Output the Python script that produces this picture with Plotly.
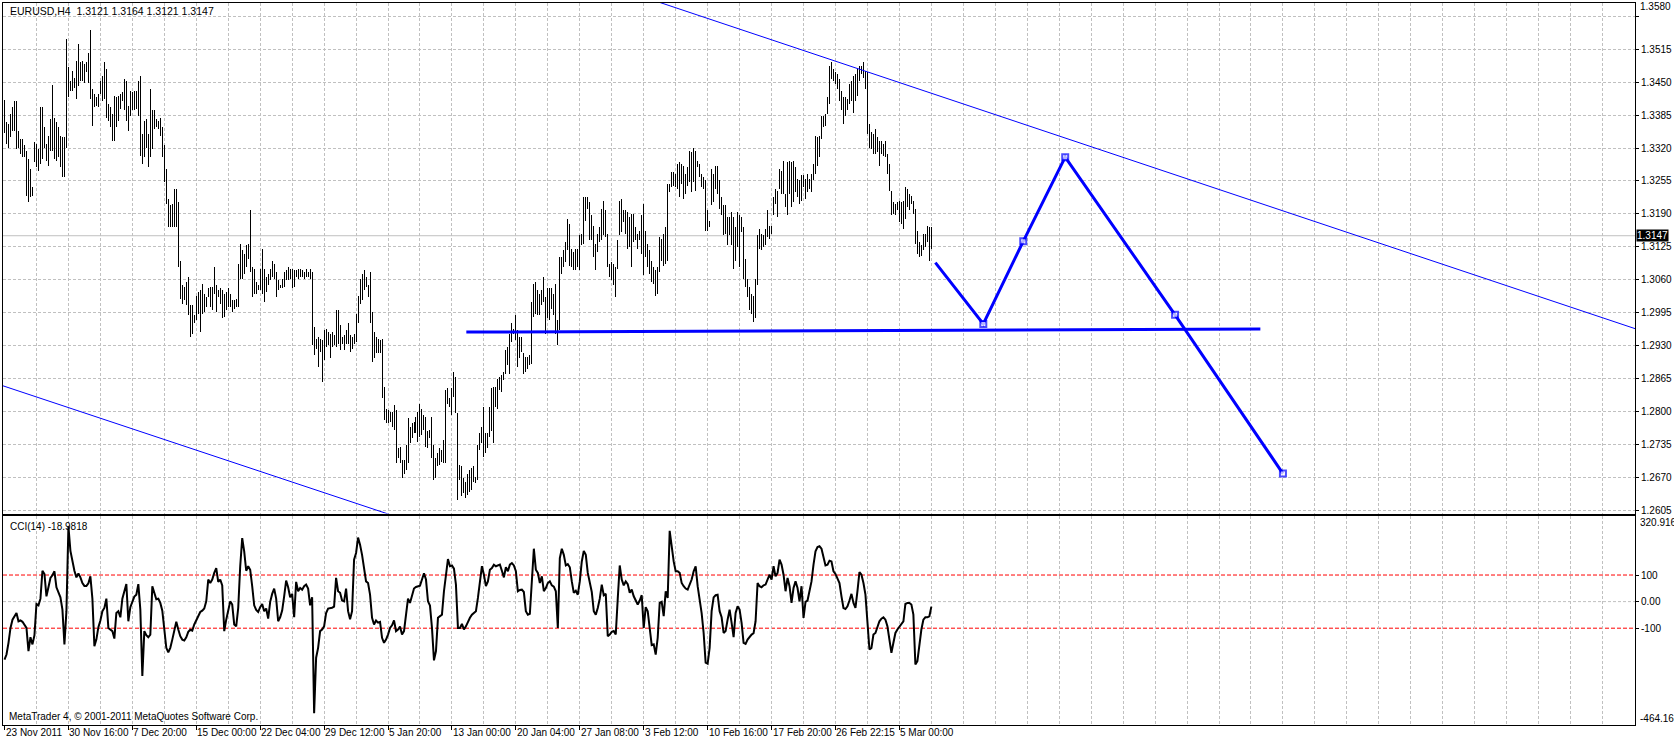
import plotly.graph_objects as go

# ---------------- data ----------------
# H4 bar highs / lows in price points (1/10000)
high_pts = [
13415,13371,13367,13387,13400,13413,13413,13354,13338,13338,
13325,13315,13298,13279,13243,13331,13328,13318,13400,13400,
13361,13328,13344,13377,13444,13380,13371,13361,13344,13341,
13341,13535,13479,13453,13472,13459,13492,13525,13489,13492,
13485,13489,13508,13552,13436,13426,13420,13426,13453,13462,
13489,13476,13407,13400,13387,13423,13420,13423,13426,13430,
13456,13453,13403,13433,13430,13433,13433,13453,13462,13348,
13374,13377,13348,13436,13394,13394,13377,13374,13380,13361,
13325,13279,13220,13207,13210,13239,13239,13213,13098,13049,
13046,13056,13066,13010,13010,12990,13029,13036,13039,13052,
13033,13026,13043,13046,13046,13085,13049,13039,13043,13039,
13033,13036,13043,13033,13020,13020,13023,13092,13131,13118,
13111,13128,13131,13198,13085,13082,13056,13049,13082,13121,
13082,13066,13072,13082,13098,13092,13075,13059,13049,13062,
13075,13079,13085,13082,13082,13079,13079,13082,13082,13079,
13075,13082,13075,13082,13075,12967,12944,12947,12944,12941,
12961,12964,12957,12954,12957,12951,13000,13000,12970,12947,
12951,12961,12974,12951,12947,12954,12993,13029,13062,13072,
13079,13066,13049,13075,12997,12957,12947,12944,12941,12944,
12849,12806,12803,12800,12800,12813,12803,12728,12731,12705,
12705,12734,12787,12770,12777,12780,12790,12800,12816,12806,
12793,12790,12761,12764,12790,12734,12708,12718,12728,12724,
12744,12842,12846,12826,12846,12879,12869,12797,12695,12692,
12669,12662,12678,12685,12688,12692,12672,12734,12757,12770,
12810,12757,12757,12810,12846,12849,12849,12865,12869,12872,
12879,12921,12928,12954,12974,12964,12990,12961,12947,12947,
12915,12908,12908,12911,13016,13052,13056,13039,13033,13039,
13066,13026,13043,13043,13043,13033,13052,12980,13105,13105,
13118,13134,13180,13170,13121,13115,13121,13121,13148,13151,
13223,13223,13223,13213,13187,13167,13131,13151,13164,13200,
13216,13197,13151,13092,13095,13092,13085,13138,13216,13220,
13197,13197,13193,13184,13190,13190,13164,13151,13157,13187,
13210,13157,13131,13118,13098,13085,13079,13085,13144,13141,
13151,13164,13249,13249,13272,13272,13269,13289,13292,13289,
13285,13269,13282,13315,13312,13321,13315,13295,13289,13269,
13262,13256,13197,13177,13279,13269,13285,13285,13256,13223,
13207,13207,13184,13184,13193,13184,13164,13193,13187,13184,
13164,13102,13062,13046,13033,13029,13062,13148,13161,13151,
13148,13161,13197,13167,13167,13223,13239,13236,13279,13275,
13295,13230,13292,13295,13292,13295,13282,13259,13256,13266,
13266,13259,13269,13259,13269,13289,13344,13341,13344,13384,
13384,13387,13420,13482,13489,13476,13469,13466,13456,13433,
13420,13420,13416,13446,13453,13462,13466,13476,13482,13482,
13489,13472,13469,13367,13351,13348,13357,13341,13334,13334,
13328,13334,13308,13289,13236,13213,13210,13213,13216,13213,
13216,13243,13239,13230,13226,13216,13200,13157,13134,13128,
13151,13151,13167,13164,13164,
]
low_pts = [
13349,13328,13321,13341,13354,13354,13318,13321,13308,13302,
13302,13226,13213,13223,13226,13292,13282,13275,13289,13298,
13321,13295,13285,13315,13315,13298,13295,13302,13282,13262,
13262,13321,13420,13433,13433,13439,13416,13443,13453,13453,
13449,13469,13449,13416,13364,13400,13403,13400,13426,13413,
13416,13380,13374,13361,13334,13334,13361,13374,13397,13413,
13394,13374,13354,13384,13394,13394,13397,13384,13305,13289,
13302,13321,13282,13302,13318,13357,13361,13357,13344,13302,
13252,13210,13164,13164,13164,13164,13164,13085,13023,13013,
13020,13010,12990,12947,12954,12974,12980,12993,12957,12993,
12997,13006,13026,13006,13000,13033,12997,13026,13013,12984,
12987,13000,13006,13006,12997,13003,13006,13006,13062,13062,
13072,13085,13102,13075,13026,13033,13033,13039,13039,13033,
13016,13036,13049,13059,13066,13062,13026,13039,13043,13043,
13046,13059,13059,13062,13043,13046,13066,13062,13066,13066,
13062,13066,13066,13062,12931,12911,12924,12888,12918,12859,
12902,12928,12931,12905,12928,12931,12928,12934,12921,12934,
12921,12934,12934,12918,12924,12934,12938,12974,13013,13020,
13039,13046,13026,12974,12898,12905,12915,12915,12915,12826,
12784,12777,12777,12780,12770,12764,12698,12708,12698,12669,
12678,12685,12698,12738,12748,12757,12757,12741,12751,12754,
12764,12731,12728,12748,12708,12665,12669,12692,12695,12701,
12698,12698,12816,12810,12793,12829,12797,12626,12665,12633,
12639,12629,12636,12642,12646,12662,12659,12665,12724,12738,
12711,12718,12728,12751,12761,12738,12810,12806,12842,12839,
12862,12875,12892,12875,12938,12954,12941,12888,12905,12918,
12875,12879,12885,12892,12895,12987,12993,12990,12990,13010,
13016,12954,12984,12980,13003,12990,12954,12931,12961,13072,
13085,13095,13118,13088,13085,13079,13079,13085,13079,13128,
13131,13177,13200,13138,13138,13105,13079,13115,13134,13138,
13148,13144,13085,13066,13059,13049,13026,13082,13148,13154,
13174,13151,13121,13125,13085,13134,13138,13121,13138,13111,
13069,13105,13085,13072,13056,13052,13029,13033,13075,13098,
13088,13092,13098,13233,13243,13246,13243,13239,13223,13249,
13220,13230,13246,13252,13233,13252,13236,13282,13262,13243,
13239,13157,13157,13164,13207,13213,13239,13230,13200,13187,
13148,13151,13128,13148,13128,13082,13098,13125,13085,13154,
13062,13046,13026,13000,12993,12977,12984,13049,13121,13118,
13125,13128,13144,13141,13151,13187,13210,13184,13239,13230,
13230,13203,13187,13230,13203,13213,13233,13223,13210,13216,
13243,13220,13233,13239,13233,13256,13269,13285,13302,13338,
13361,13364,13387,13407,13456,13453,13446,13436,13413,13394,
13367,13384,13394,13407,13413,13390,13413,13423,13453,13466,
13459,13436,13348,13321,13318,13308,13308,13312,13285,13308,
13305,13302,13269,13236,13187,13190,13187,13197,13174,13170,
13161,13180,13203,13197,13210,13190,13131,13111,13105,13108,
13118,13125,13134,13098,13121,
]
cci = [
-218,-199,-155,-99,-68,-55,-43,-74,-71,-76,
-89,-99,-186,-134,-161,-126,-9,-14,11,116,
104,20,54,89,99,114,54,36,16,-30,
-161,-36,283,191,145,116,91,106,91,70,
59,59,69,95,11,-168,-142,-96,-71,-36,
-24,11,-99,-105,-111,-139,-43,-36,-59,11,
41,66,-74,-21,-1,19,26,66,-30,-280,
-111,-126,-134,-124,58,33,9,11,-5,-34,
-93,-174,-191,-174,-143,-109,-76,-105,-130,-143,
-146,-134,-114,-106,-109,-86,-68,-55,-39,-34,
-26,1,83,70,83,108,126,74,83,61,
-111,-68,-30,1,-11,-86,-93,-24,133,239,
189,116,133,120,58,-14,-31,-39,-21,-9,
-36,-26,-64,-1,29,49,11,-74,-59,-34,
20,79,54,16,29,-59,74,39,51,45,
58,64,49,-14,16,-420,-211,-174,-111,-105,
-93,-43,-26,-25,-23,-19,89,39,33,4,
1,49,-36,-66,-36,158,183,241,214,176,
133,76,70,26,-61,-86,-71,-79,-76,-136,
-155,-143,-124,-99,-89,-71,-111,-105,-94,-124,
-111,-59,11,-5,26,49,55,58,60,83,
106,83,1,-15,-99,-221,-186,-61,-55,-49,
39,101,160,133,136,124,64,-99,-99,-84,
-105,-93,-74,-61,-49,-43,-36,14,70,133,
101,58,76,120,126,139,133,135,139,116,
91,129,114,139,145,136,114,39,44,45,
36,-36,-49,-46,89,199,120,108,70,95,
39,51,70,76,61,56,39,-99,164,199,
176,136,141,129,76,33,41,26,76,151,
191,176,108,76,36,-36,-49,-24,11,64,
24,29,-130,-124,-114,-111,-124,11,136,83,
61,76,66,33,45,20,6,-11,4,24,
-99,-21,-36,-105,-164,-161,-199,-136,-5,-1,
-55,39,14,266,208,151,114,114,108,70,
58,49,45,61,83,114,133,58,8,-43,
-118,-230,-234,-174,-36,16,24,26,-36,-59,
-118,-111,-68,-30,-80,-134,-43,-18,-30,-80,
-155,-159,-143,-131,-124,-119,-74,70,58,54,
61,64,83,101,83,133,95,108,158,139,
101,39,89,58,-5,51,76,51,1,58,
-61,-1,4,39,76,139,189,205,208,199,
164,136,139,154,151,114,104,85,70,20,
-24,-28,-18,4,29,-5,-24,39,111,101,
70,26,-61,-180,-174,-124,-118,-93,-74,-64,
-59,-68,-93,-143,-193,-155,-118,-105,-93,-86,
-74,-9,-5,-5,-11,-49,-236,-224,-161,-105,
-68,-59,-59,-55,-18.9818,
]

price_ticks = [1.2605, 1.2670, 1.2735, 1.2800, 1.2865, 1.2930, 1.2995, 1.3060,
               1.3125, 1.3190, 1.3255, 1.3320, 1.3385, 1.3450, 1.3515, 1.3580]
date_labels = ["23 Nov 2011", "30 Nov 16:00", "7 Dec 20:00", "15 Dec 00:00", "22 Dec 04:00",
               "29 Dec 12:00", "5 Jan 20:00", "13 Jan 00:00", "20 Jan 04:00", "27 Jan 08:00",
               "3 Feb 12:00", "10 Feb 16:00", "17 Feb 20:00", "26 Feb 22:15", "5 Mar 00:00"]
date_bars = [0, 32, 64, 96, 128, 160, 192, 224, 256, 288, 320, 352, 384, 416, 448]
cci_ticks = [100, 0, -100]
cci_tick_text = ["100", "0.00", "-100"]
cci_levels = [100, -100]
cci_range = [-464.16, 320.9165]

last_price = 1.3147
header = "EURUSD,H4\u00a0\u00a01.3121 1.3164 1.3121 1.3147"
cci_title = "CCI(14) -18.9818"

# drawn objects (bar index, price)
zig_x = [466, 490, 510, 531, 586, 640]
zig_y = [1.3094, 1.2973, 1.3136, 1.3302, 1.2991, 1.2678]
zig_marker = [0, 6, 6, 6, 6, 6]
support_x = [231.2, 628.7]
support_y = [1.2957, 1.2963]
upper_x = [348.65, 798.65]
upper_y = [1.3580, 1.2987]
lower_x = [0.0, 158.65]
lower_y = [1.2850, 1.2642]

# ---------------- figure ----------------
W, H = 1674, 742
ML, MR, MT, MB = 2, 38, 2, 17
X_RANGE = [-0.75, 816.25]
FONT = "Liberation Sans"
GRID = "#c0c0c0"
DASH = "3px,2px"
BLUE = "#0000ff"

def ray(xs, ys, x_from, x_to):
    s = (ys[1] - ys[0]) / (xs[1] - xs[0])
    return [x_from, x_to], [ys[0] + (x_from - xs[0]) * s, ys[0] + (x_to - xs[0]) * s]

bx, by = [], []
for i, (h, l) in enumerate(zip(high_pts, low_pts)):
    bx += [i, i, None]
    by += [l / 10000, h / 10000, None]

fig = go.Figure()
fig.add_trace(go.Scatter(x=bx, y=by, mode="lines", line=dict(color="black", width=1),
                         xaxis="x", yaxis="y", hoverinfo="skip"))
ux, uy = ray(upper_x, upper_y, 300, 830)
fig.add_trace(go.Scatter(x=ux, y=uy, mode="lines", line=dict(color=BLUE, width=1),
                         xaxis="x", yaxis="y", hoverinfo="skip"))
lx, ly = ray(lower_x, lower_y, -5, 220)
fig.add_trace(go.Scatter(x=lx, y=ly, mode="lines", line=dict(color=BLUE, width=1),
                         xaxis="x", yaxis="y", hoverinfo="skip"))
fig.add_trace(go.Scatter(x=support_x, y=support_y, mode="lines", line=dict(color=BLUE, width=3),
                         xaxis="x", yaxis="y", hoverinfo="skip"))
fig.add_trace(go.Scatter(x=zig_x, y=zig_y, mode="lines+markers", line=dict(color=BLUE, width=3),
                         marker=dict(symbol="square", size=zig_marker, color="white",
                                     line=dict(color=BLUE, width=2)),
                         xaxis="x", yaxis="y", hoverinfo="skip"))
fig.add_trace(go.Scatter(x=list(range(len(cci))), y=cci, mode="lines",
                         line=dict(color="black", width=2),
                         xaxis="x2", yaxis="y2", hoverinfo="skip"))

grid_bars = list(range(16, 817, 16))
axline = dict(showline=True, mirror=True, linecolor="black", linewidth=1, zeroline=False)
plot_h = H - MT - MB
def py(page_y):
    return (H - MB - page_y) / plot_h

main_bottom = py(513.3)
cci_top = py(516)

fig.update_layout(
    width=W, height=H, margin=dict(l=ML, r=MR, t=MT, b=MB),
    paper_bgcolor="white", plot_bgcolor="white", showlegend=False, hovermode=False,
    font=dict(family=FONT, size=10, color="black"),
    xaxis=dict(domain=[0, 1], anchor="y", range=X_RANGE, tickmode="array", tickvals=grid_bars,
               ticks="", showticklabels=False, showgrid=True, gridcolor=GRID, griddash=DASH,
               gridwidth=1, **axline),
    xaxis2=dict(domain=[0, 1], anchor="y2", range=X_RANGE, tickmode="array", tickvals=grid_bars,
                ticks="inside", ticklen=0, tickcolor="rgba(0,0,0,0)", showticklabels=False,
                showgrid=True, gridcolor=GRID, griddash=DASH, gridwidth=1,
                minor=dict(tickmode="array", tickvals=date_bars, ticks="outside", ticklen=4,
                           tickcolor="black", tickwidth=1, showgrid=False),
                **axline),
    yaxis=dict(domain=[main_bottom, 1], anchor="x", side="right",
               range=[1.2599, 1.3606], tickmode="array", tickvals=price_ticks,
               ticktext=[f"{v:.4f}" for v in price_ticks[:-1]] + [""],
               ticks="outside", ticklen=3, tickcolor="black", showgrid=True,
               gridcolor=GRID, griddash=DASH, gridwidth=1,
               tickfont=dict(family=FONT, size=10, color="black"), **axline),
    yaxis2=dict(domain=[0, cci_top], anchor="x2", side="right", range=cci_range,
                tickmode="array", tickvals=cci_ticks, ticktext=cci_tick_text,
                ticks="outside", ticklen=3, tickcolor="black", showgrid=False,
                tickfont=dict(family=FONT, size=10, color="black"), **axline),
)

shapes = [
    dict(type="line", xref="x domain", x0=0, x1=1, yref="y", y0=last_price, y1=last_price,
         line=dict(color=GRID, width=1), layer="below"),
    dict(type="line", xref="x2 domain", x0=0, x1=1, yref="y2", y0=0, y1=0,
         line=dict(color=GRID, width=1, dash=DASH), layer="below"),
]
for lv in cci_levels:
    shapes.append(dict(type="line", xref="x2 domain", x0=0, x1=1, yref="y2", y0=lv, y1=lv,
                       line=dict(color="#ff0000", width=1, dash="4px,2px"), layer="below"))
fig.update_layout(shapes=shapes)

ann = []
def txt(text, x, y, xref="paper", yref="paper", xanchor="left", size=10, **kw):
    d = dict(text=text, x=x, y=y, xref=xref, yref=yref, xanchor=xanchor, yanchor="middle",
             showarrow=False, font=dict(family=FONT, size=size, color="black"))
    d.update(kw)
    ann.append(d)

txt(header, 0.0028, py(10.5), size=10.5)
txt(cci_title, 0.0028, py(526))
txt("MetaTrader 4, \u00a9 2001-2011 MetaQuotes Software Corp.", 0.0025, py(716))
txt(f"{price_ticks[-1]:.4f}", 1, py(6), xshift=3)
txt("320.9165", 1, py(522), xshift=3)
txt("-464.16", 1, py(718), xshift=3)
txt(f"{last_price:.4f}", 1, last_price, yref="y", xshift=1, bgcolor="black", borderpad=0,
    font=dict(family=FONT, size=10, color="white"))
for lab, b in zip(date_labels, date_bars):
    txt(lab, b, py(733), xref="x2", xshift=-1)
fig.update_layout(annotations=ann)

post = (
    "document.body.style.margin='0';document.body.style.overflow='hidden';"
    "var t=document.querySelectorAll('.subplot.xy .scatterlayer .trace');"
    "if(t.length){t[0].querySelectorAll('path').forEach(function(p){p.style.shapeRendering='crispEdges';});}"
)
fig.write_html("out.html", config={"displayModeBar": False}, post_script=post)
